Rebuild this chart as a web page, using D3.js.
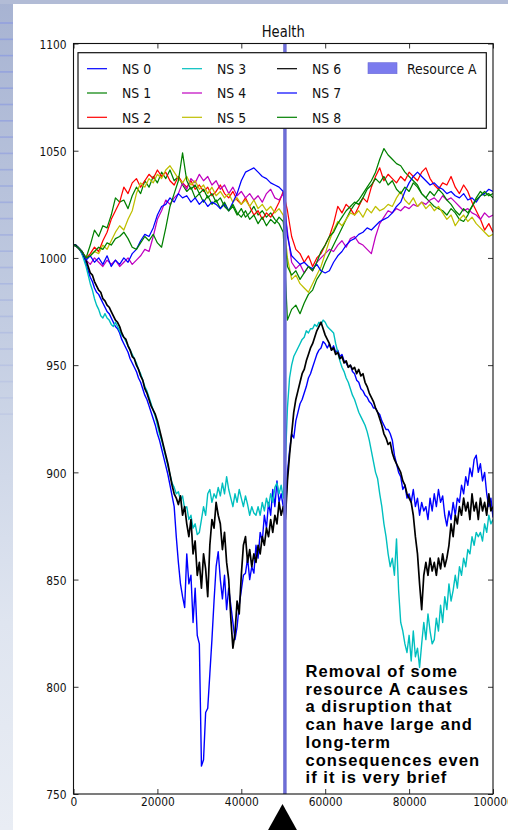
<!DOCTYPE html>
<html><head><meta charset="utf-8">
<script src="https://cdn.jsdelivr.net/npm/d3@7"></script>
<style>html,body{margin:0;padding:0;background:#fff;overflow:hidden}svg{display:block}</style>
</head><body>
<svg id="chart" width="508" height="830"></svg>
<script>
const chartTitle = "Health";
const seriesNames = ["NS 0","NS 1","NS 2","NS 3","NS 4","NS 5","NS 6","NS 7","NS 8"];
const seriesColors = ["#0000ff","#008000","#ff0000","#00bfbf","#bf00bf","#bfbf00","#000000","#0000ff","#008000"];
const xTicks = [0,20000,40000,60000,80000,100000];
const yTicks = [750,800,850,900,950,1000,1050,1100];
const resourceLabel = "Resource A";
const resourceSpan = [50100, 50700];
const annotationLines = ["Removal of some","resource A causes","a disruption that","can have large and","long-term","consequences even","if it is very brief"];
const fineStep = 500;   // sample spacing of NS 0, NS 3, NS 6
const coarseStep = 1000; // sample spacing of the other series

// NS 0 (blue, lower group) every 500
const ns0 = [1006,1006,1005,1004,1002,1000,997,994,991,989,986,984,983,981,979,977,975,974,972,970,
968,967,965,962,960,958,956,953,951,949,947,944,942,939,936,934,931,928,925,922,
918,915,911,907,903,899,894,889,884,870,858,848,842,837,862,848,852,830,846,824,
820,763,766,788,790,806,822,840,856,863,850,841,852,836,846,838,830,822,828,838,
845,852,853,860,850,856,853,866,860,872,868,880,874,886,880,892,884,896,886,890,
884,880,900,910,918,916,924,928,932,934,937,940,944,946,949,952,955,957,958,961,
960,958,960,957,959,956,957,954,955,952,951,949,950,947,946,943,942,939,938,936,
935,933,932,930,930,928,927,924,922,920,920,918,915,908,904,900,898,892,894,888,
890,886,892,884,888,880,886,882,884,878,888,882,890,884,892,886,889,880,875,882,
878,886,880,888,886,894,890,898,894,902,898,906,908,900,904,896,900,890,884,888,879];
// NS 3 (cyan) every 500
const ns3 = [1006,1006,1005,1004,1002,999,996,992,988,985,981,978,976,973,972,974,972,971,969,968,
970,968,966,964,963,961,959,957,955,953,951,948,946,943,940,938,935,932,929,926,
922,918,915,911,907,903,899,895,893,890,891,887,889,883,884,878,880,874,876,871,
872,878,884,880,890,892,886,890,888,893,889,895,890,898,892,888,884,890,886,892,
888,884,889,885,880,884,881,880,884,880,886,882,888,884,890,886,893,895,890,894,
888,905,930,944,950,954,956,958,960,962,963,966,965,967,967,969,968,970,969,971,
970,968,967,966,965,960,956,952,949,947,944,942,939,936,934,931,928,926,924,922,
919,915,910,905,900,897,890,884,876,870,862,856,860,852,869,845,830,826,820,816,
824,812,826,814,818,809,820,830,822,834,826,820,822,832,826,838,830,842,836,848,
840,845,852,846,856,852,860,856,864,862,870,866,872,870,872,868,876,872,880,876,878];
// NS 6 (black) every 500
const ns6 = [1006,1006,1005,1004,1003,1001,999,996,993,992,989,987,985,984,981,980,978,977,975,973,
971,970,968,965,963,962,959,957,954,953,950,948,945,943,939,937,934,931,929,927,
924,920,916,912,908,904,899,894,890,888,885,889,880,884,876,870,878,862,868,852,
858,846,862,855,842,866,878,874,886,880,876,864,872,858,850,832,818,825,840,834,
852,866,870,858,864,856,862,858,866,862,870,866,874,870,878,872,880,876,886,880,
884,878,896,908,918,928,934,938,942,946,948,952,955,958,960,963,966,968,970,967,
964,962,960,957,958,955,956,953,954,951,952,949,950,948,949,946,948,945,946,942,
940,937,935,933,930,928,925,922,918,916,913,914,909,906,904,902,900,896,894,890,
888,886,880,870,862,848,836,852,858,852,860,854,858,852,860,855,862,856,860,866,
876,870,880,876,884,880,888,882,886,878,890,882,886,878,888,882,886,880,890,882,884];

// Upper group, every 1000
const ns1 = [1006,1005,1003,1000,1006,1013,1010,1015,1014,1020,1028,1026,1027,1023,1029,1033,1030,1036,1033,1038,
1035,1040,1037,1041,1036,1038,1034,1031,1033,1028,1030,1026,1029,1025,1027,1023,1026,1022,1024,1020,
1023,1019,1021,1024,1020,1022,1019,1021,1018,1016,1012,971,976,978,974,979,983,985,990,993,
998,1002,1006,1010,1014,1018,1022,1025,1027,1030,1033,1036,1040,1046,1051,1048,1046,1044,1043,1040,
1038,1036,1034,1030,1028,1026,1024,1023,1022,1020,1023,1021,1018,1017,1020,1024,1028,1031,1029,1030,1028];
const ns2 = [1006,1005,1003,1000,1002,1005,1003,1008,1012,1018,1022,1026,1033,1030,1035,1037,1033,1036,1039,1037,
1041,1038,1040,1036,1034,1038,1035,1033,1036,1032,1034,1031,1033,1029,1031,1034,1030,1028,1031,1027,
1025,1028,1024,1020,1022,1018,1021,1019,1022,1026,1031,1022,1010,1004,1002,998,1001,996,1000,1002,
1006,1010,1016,1024,1021,1025,1023,1020,1024,1028,1026,1033,1038,1042,1036,1039,1037,1035,1038,1036,
1040,1038,1036,1040,1042,1037,1034,1032,1035,1034,1038,1033,1030,1034,1031,1026,1022,1018,1013,1016,1012];
const ns4 = [1006,1005,1003,999,997,1000,998,996,999,997,999,996,998,1000,997,999,1001,1004,1003,1010,
1018,1022,1027,1025,1028,1030,1035,1032,1037,1035,1039,1036,1038,1034,1036,1032,1034,1030,1033,1029,
1031,1028,1030,1027,1029,1026,1030,1032,1028,1027,1030,1012,998,995,997,993,996,994,998,1000,
1002,1004,1003,1006,1008,1005,1009,1010,1007,1006,1004,1002,1010,1016,1019,1022,1021,1023,1022,1024,
1023,1025,1024,1026,1025,1027,1028,1026,1029,1027,1028,1026,1024,1022,1023,1021,1020,1018,1021,1019,1020];
const ns5 = [1006,1005,1003,1000,1001,1003,1002,1006,1004,1008,1012,1015,1013,1018,1022,1030,1035,1033,1037,1035,
1039,1037,1041,1043,1040,1037,1035,1038,1034,1036,1032,1034,1030,1033,1029,1031,1028,1030,1026,1028,
1025,1027,1024,1027,1023,1025,1022,1024,1021,1023,1020,1000,990,992,988,986,984,988,992,996,
1002,1008,1013,1017,1015,1018,1021,1020,1022,1019,1023,1021,1024,1022,1023,1025,1024,1028,1031,1027,
1025,1028,1024,1026,1023,1025,1022,1024,1021,1018,1020,1015,1018,1020,1017,1019,1016,1014,1012,1010,1011];
const ns7 = [1006,1005,1003,999,1001,998,1000,997,1001,996,999,997,1000,998,1002,1004,1008,1011,1010,1014,
1020,1024,1025,1028,1026,1030,1028,1029,1026,1028,1025,1027,1024,1026,1025,1023,1025,1022,1026,1030,
1036,1040,1041,1042,1040,1038,1037,1035,1034,1033,1031,1010,1001,999,997,998,996,995,997,994,
993,994,998,1001,1003,1006,1008,1009,1011,1012,1014,1013,1015,1017,1018,1019,1021,1024,1026,1031,
1035,1038,1040,1038,1036,1034,1035,1033,1032,1030,1031,1029,1028,1030,1027,1028,1026,1029,1030,1032,1031];
const ns8 = [1006,1005,1003,1000,1001,1003,1005,1004,1007,1006,1009,1010,1012,1009,1005,1004,1007,1010,1008,1011,
1007,1005,1014,1024,1030,1036,1049,1036,1032,1034,1030,1032,1028,1030,1026,1028,1024,1022,1025,1021,
1019,1022,1018,1020,1016,1019,1015,1018,1016,1019,1017,996,992,994,990,993,996,994,998,1003,
1006,1010,1012,1016,1019,1022,1024,1026,1025,1028,1032,1034,1037,1035,1038,1034,1036,1032,1030,1033,
1031,1035,1033,1030,1028,1031,1029,1032,1030,1027,1025,1022,1020,1023,1021,1024,1027,1029,1031,1029,1030];

const seriesValues = [ns0, ns1, ns2, ns3, ns4, ns5, ns6, ns7, ns8];
const seriesSteps = [fineStep, coarseStep, coarseStep, fineStep, coarseStep, coarseStep, fineStep, coarseStep, coarseStep];

const svg = d3.select("#chart");
const W = 508, H = 830;
const plot = {left: 73.5, right: 493, top: 43.5, bottom: 794};
const x = d3.scaleLinear().domain([0, 100000]).range([plot.left, plot.right]);
const y = d3.scaleLinear().domain([750, 1100]).range([plot.bottom, plot.top]);
const SX = 0.82; // horizontal squeeze of the figure's text

// ---- slide background ----
const defs = svg.append("defs");
const g1 = defs.append("linearGradient").attr("id","strip").attr("x1",0).attr("y1",0).attr("x2",0).attr("y2",1);
g1.append("stop").attr("offset","0%").attr("stop-color","#a7b3d2");
g1.append("stop").attr("offset","40%").attr("stop-color","#c3cde2");
g1.append("stop").attr("offset","75%").attr("stop-color","#dfe5f0");
g1.append("stop").attr("offset","100%").attr("stop-color","#e9edf4");
svg.append("rect").attr("x",0).attr("y",0).attr("width",W).attr("height",H).attr("fill","#ffffff");
svg.append("rect").attr("x",0).attr("y",0).attr("width",13).attr("height",H).attr("fill","url(#strip)");
const stripeYs = d3.range(23, 420, 16.3);
svg.append("g").selectAll("rect").data(stripeYs).join("rect")
  .attr("x",0).attr("width",13).attr("y",d=>d-0.8).attr("height",1.6)
  .attr("fill","#8e9de0").attr("opacity",(d,i)=>Math.max(0.15, 0.85 - i*0.03));
svg.append("rect").attr("x",0).attr("y",0).attr("width",W).attr("height",4).attr("fill","#b2bcd6");

// ---- clip ----
defs.append("clipPath").attr("id","plotclip").append("rect")
  .attr("x",plot.left).attr("y",plot.top).attr("width",plot.right-plot.left).attr("height",plot.bottom-plot.top);

// ---- lines ----
const line = d3.line().x(d=>x(d[0])).y(d=>y(d[1]));
const linesG = svg.append("g").attr("clip-path","url(#plotclip)");
seriesValues.forEach((vals, si) => {
  const pts = vals.map((v,i)=>[i*seriesSteps[si], v]);
  const fine = seriesSteps[si] === fineStep;
  linesG.append("path").datum(pts).attr("d", line)
    .attr("fill","none").attr("stroke", seriesColors[si])
    .attr("stroke-width", si === 6 ? 1.7 : (fine ? 1.4 : 1.25))
    .attr("stroke-linejoin","round");
});
// resource span
linesG.append("rect").attr("x", x(resourceSpan[0])).attr("width", x(resourceSpan[1])-x(resourceSpan[0]))
  .attr("y", plot.top).attr("height", plot.bottom-plot.top)
  .attr("fill","#6e6ed8").attr("stroke","#5a5ac8").attr("stroke-width",0.6);

// ---- axes (inward ticks on all sides) ----
const fmt = d3.format("d");
const axB = svg.append("g").attr("transform",`translate(0,${plot.bottom})`)
  .call(d3.axisBottom(x).tickValues(xTicks).tickSize(-5).tickFormat(fmt));
const axL = svg.append("g").attr("transform",`translate(${plot.left},0)`)
  .call(d3.axisLeft(y).tickValues(yTicks).tickSize(-5).tickFormat(fmt));
const axT = svg.append("g").attr("transform",`translate(0,${plot.top})`)
  .call(d3.axisTop(x).tickValues(xTicks).tickSize(-5).tickFormat(""));
const axR = svg.append("g").attr("transform",`translate(${plot.right},0)`)
  .call(d3.axisRight(y).tickValues(yTicks).tickSize(-5).tickFormat(""));
[axB,axL,axT,axR].forEach(a=>{ a.select(".domain").remove(); a.selectAll(".tick line").attr("stroke","#000").attr("stroke-width",0.8); });
axB.selectAll(".tick text").attr("x",0).attr("y",0).attr("dy",null)
  .attr("transform",`translate(0,12) scale(${SX},1)`).attr("text-anchor","middle")
  .attr("font-family","DejaVu Sans").attr("font-size",13).attr("fill","#111");
axL.selectAll(".tick text").attr("x",0).attr("y",0).attr("dy",null)
  .attr("transform",`translate(-7,4.7) scale(${SX},1)`).attr("text-anchor","end")
  .attr("font-family","DejaVu Sans").attr("font-size",13).attr("fill","#111");

// frame
svg.append("rect").attr("x",plot.left).attr("y",plot.top).attr("width",plot.right-plot.left).attr("height",plot.bottom-plot.top)
  .attr("fill","none").attr("stroke","#111").attr("stroke-width",1.1);

// title
svg.append("text").text(chartTitle).attr("transform",`translate(${(plot.left+plot.right)/2},36.5) scale(${SX},1)`)
  .attr("text-anchor","middle").attr("font-family","DejaVu Sans").attr("font-size",16).attr("fill","#111");

// ---- legend ----
const leg = svg.append("g");
leg.append("rect").attr("x",78).attr("y",52.7).attr("width",486.3-78).attr("height",128.3-52.7)
  .attr("fill","#fff").attr("stroke","#111").attr("stroke-width",1.2);
const colX = [87, 182, 277, 372];
const rowY = [68.7, 93, 117.3];
const legendItems = seriesNames.map((n,i)=>({name:n, color:seriesColors[i], type:"line"}))
  .concat([{name:resourceLabel, color:"#7b7bee", type:"patch"}]);
legendItems.forEach((it, i) => {
  const c = Math.floor(i/3), r = i%3;
  const gx = colX[c], gy = rowY[r];
  if (it.type === "line") {
    leg.append("line").attr("x1",gx).attr("x2",gx+20).attr("y1",gy).attr("y2",gy)
      .attr("stroke",it.color).attr("stroke-width",1.2);
  } else {
    leg.append("rect").attr("x",gx-4).attr("y",gy-6).attr("width",29).attr("height",11)
      .attr("fill",it.color).attr("stroke","#6a6ad8").attr("stroke-width",0.6);
  }
  leg.append("text").text(it.name).attr("transform",`translate(${gx+35},${gy+5.3}) scale(0.86,1)`)
    .attr("font-family","DejaVu Sans").attr("font-size",14.5).attr("fill","#111");
});

// ---- annotation ----
const ann = svg.append("text").attr("font-family","Liberation Sans, Arial, sans-serif").attr("font-weight","bold")
  .attr("font-size",16.5).attr("letter-spacing","1.05px").attr("fill","#000");
annotationLines.forEach((t,i)=>{
  ann.append("tspan").attr("x",305.5).attr("y",677 + i*17.7).text(t);
});
// arrow
const arrowPts = [[282.5,804],[267.5,831],[297.5,831]];
svg.append("path").attr("d", d3.line()(arrowPts) + "Z").attr("fill","#000");
</script>
</body></html>
